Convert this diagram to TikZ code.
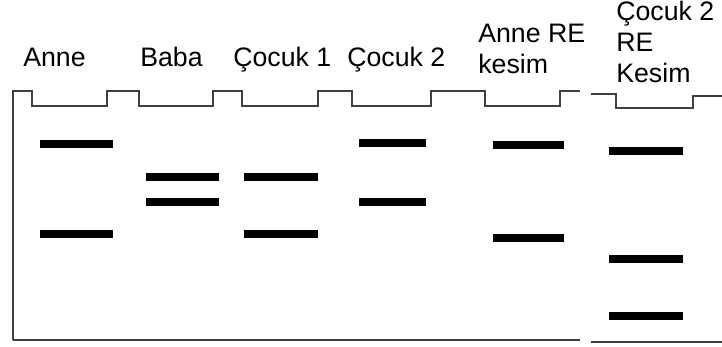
\documentclass[tikz,border=0pt]{standalone}
\usepackage{fontspec}
\setmainfont{Liberation Sans}
\usetikzlibrary{positioning}

\begin{document}
\begin{tikzpicture}[
  x=0.025cm, y=-0.025cm,
  gel/.style={line width=1.5pt, draw=black!75, line join=miter},
  band/.style={line width=5.6pt},
  lbl/.style={inner sep=0pt, font=\fontsize{19}{22}\selectfont, align=left},
]
\useasboundingbox (0,0) rectangle (722,347);

% Labels
\node[lbl, anchor=base west] (anne) at (23,67) {Anne};
\node[lbl, anchor=base west] (baba) at (140,67) {Baba};
\node[lbl, anchor=base west] (cocukA) at (233,67) {Çocuk 1};
\node[lbl, anchor=base west] (cocukB) at (347,67) {Çocuk 2};
\node[lbl, anchor=north west] (anneRE) at (478,24) {Anne RE\\kesim};
\node[lbl, anchor=north west] (cocukRE) at (616,1) {Çocuk 2\\RE\\Kesim};

% Gel with wells
\draw[gel] (13,340) -- (13,91) -- (32,91) -- (32,106) -- (107,106) -- (107,91)
  -- (139,91) -- (139,106) -- (213,106) -- (213,91) -- (242,91) -- (242,106)
  -- (318,106) -- (318,91) -- (352,91) -- (352,106) -- (431,106) -- (431,91)
  -- (485,91) -- (485,106) -- (560,106) -- (560,91) -- (580,91);
\draw[gel] (13,340) -- (580,340);
\draw[gel] (591,94) -- (616,94) -- (616,108) -- (693,108) -- (693,96) -- (722,96);
\draw[gel] (591,342) -- (722,342);

% Bands
\draw[band] (40,144) -- (113,144);
\draw[band] (40,234) -- (113,234);
\draw[band] (146,177) -- (219,177);
\draw[band] (146,202) -- (219,202);
\draw[band] (244,177) -- (318,177);
\draw[band] (244,234) -- (318,234);
\draw[band] (359,143) -- (426,143);
\draw[band] (359,202) -- (426,202);
\draw[band] (493,145) -- (564,145);
\draw[band] (493,238) -- (564,238);
\draw[band] (609,151) -- (683,151);
\draw[band] (609,259) -- (683,259);
\draw[band] (609,316) -- (683,316);

\end{tikzpicture}
\end{document}
